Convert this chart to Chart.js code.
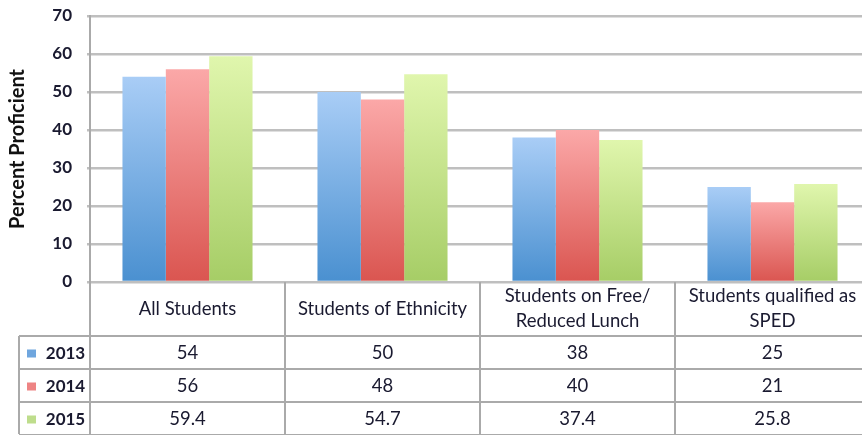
<!DOCTYPE html>
<html>
<head>
<meta charset="utf-8">
<script src="https://cdn.jsdelivr.net/npm/chart.js@4/dist/chart.umd.min.js"></script>
<style>
  html, body { margin: 0; padding: 0; background: #fff; overflow: hidden; }
  #wrap { width: 880px; height: 435px; }
</style>
</head>
<body>
<div id="wrap"><canvas id="myChart" width="880" height="435"></canvas></div>
<script>
// Dados do gráfico
const categories = [
  ['All Students'],
  ['Students of Ethnicity'],
  ['Students on Free/', 'Reduced Lunch'],
  ['Students qualified as', 'SPED']
];
const years = ['2013', '2014', '2015'];
const values2013 = [54, 50, 38, 25];
const values2014 = [56, 48, 40, 21];
const values2015 = [59.4, 54.7, 37.4, 25.8];
const yMin = 0, yMax = 70, yStep = 10;

// cores: topo claro, base escura
const shades = [
  { top: '#a9cdf6', bottom: '#4a90d0', key: '#6fa6de' },
  { top: '#fba8a8', bottom: '#da5550', key: '#ee8484' },
  { top: '#e0f6ad', bottom: '#a6cd66', key: '#bedd8c' }
];

const FONT = 'Lato, "Open Sans", sans-serif';
const TEXT = '#1a1a30';
const LINE = '#bfbfbf';
const TABLE_LINE = '#aaaaaa';

function barFill(i) {
  return function (ctx) {
    const chart = ctx.chart;
    const y = chart.scales && chart.scales.y;
    if (!chart.chartArea || !y || ctx.raw == null) return shades[i].key;
    const top = y.getPixelForValue(ctx.raw);
    const bottom = y.getPixelForValue(0);
    const g = chart.ctx.createLinearGradient(0, top, 0, bottom);
    g.addColorStop(0, shades[i].top);
    g.addColorStop(1, shades[i].bottom);
    return g;
  };
}

const seriesValues = [values2013, values2014, values2015];

const data = {
  labels: categories,
  datasets: years.map((yr, i) => ({
    label: yr,
    data: seriesValues[i],
    backgroundColor: barFill(i),
    borderWidth: 0,
    barPercentage: 1,
    categoryPercentage: 0.667
  }))
};

// tabela de dados abaixo do gráfico
const dataTable = {
  id: 'dataTable',
  afterDraw(chart) {
    const c = chart.ctx;
    const area = chart.chartArea;
    const xs = chart.scales.x;
    const n = categories.length;
    const colW = (area.right - area.left) / n;
    const headerBottom = area.bottom + 54;
    const rowH = 33;
    const bottom = chart.height - 1;
    const legendLeft = 19;

    c.save();
    c.strokeStyle = TABLE_LINE;
    c.lineWidth = 2;
    c.beginPath();
    // linhas verticais das categorias
    for (let i = 0; i <= n; i++) {
      const x = Math.round(area.left + i * colW);
      c.moveTo(x, area.bottom);
      c.lineTo(x, bottom);
    }
    // borda esquerda da legenda
    c.moveTo(legendLeft, headerBottom);
    c.lineTo(legendLeft, bottom);
    // linhas horizontais
    for (let r = 0; r <= years.length; r++) {
      const y = Math.round(headerBottom + r * rowH);
      c.moveTo(legendLeft, y);
      c.lineTo(area.right, y);
    }
    c.stroke();

    c.fillStyle = TEXT;
    c.textAlign = 'center';
    c.textBaseline = 'middle';
    c.font = '18.5px ' + FONT;
    // cabeçalhos
    categories.forEach((lines, i) => {
      const cx = xs.getPixelForValue(i);
      const mid = (area.bottom + headerBottom) / 2;
      const lh = 25;
      lines.forEach((t, k) => {
        c.fillText(t, cx, mid + (k - (lines.length - 1) / 2) * lh);
      });
    });
    // linhas de valores
    years.forEach((yr, r) => {
      const cy = headerBottom + r * rowH + rowH / 2 + 1;
      c.font = '18.5px ' + FONT;
      seriesValues[r].forEach((v, i) => {
        c.fillText(String(v), xs.getPixelForValue(i), cy);
      });
      c.fillStyle = shades[r].key;
      c.fillRect(legendLeft + 8, cy - 4, 9, 8);
      c.fillStyle = TEXT;
      c.font = 'bold 17px ' + FONT;
      c.fillText(yr, (legendLeft + 22 + area.left) / 2, cy);
    });
    c.restore();
  }
};

const options = {
  responsive: false,
  animation: false,
  layout: { padding: { top: 16, right: 10, bottom: 153, left: 0 } },
  plugins: { legend: { display: false }, tooltip: { enabled: false } },
  scales: {
    x: { display: false },
    y: {
      min: yMin,
      max: yMax,
      ticks: { stepSize: yStep, padding: 15, color: TEXT, font: { family: FONT, size: 17, weight: 'bold' } },
      grid: { color: LINE, lineWidth: 2.5, drawTicks: true, tickLength: 3 },
      border: { display: true, color: TABLE_LINE, width: 2 },
      title: { display: true, text: 'Percent Proficient', color: '#111', font: { family: FONT, size: 20, weight: 'bold' }, padding: { top: 6, bottom: 0 } },
      afterFit(s) { s.width = 90; s.paddingTop = 0; s.paddingBottom = 0; }
    }
  }
};

const ctx = document.getElementById('myChart').getContext('2d');
const myChart = new Chart(ctx, {
  type: 'bar',
  data: data,
  options: options,
  plugins: [dataTable]
});
</script>
</body>
</html>
